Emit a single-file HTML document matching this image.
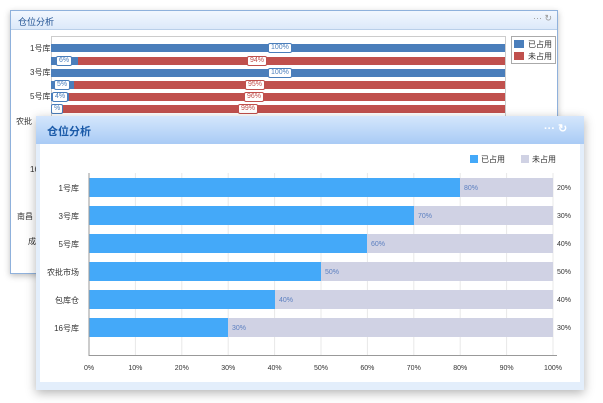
<!DOCTYPE html>
<html><head><meta charset="utf-8"><style>
*{margin:0;padding:0;box-sizing:border-box}
body{width:603px;height:403px;background:#fff;position:relative;overflow:hidden;font-family:"Liberation Sans","Noto Sans CJK SC",sans-serif}
.a{position:absolute}
.t{font-size:8px;color:#333;white-space:nowrap}
.lb{position:absolute;font-size:7px;background:#fff;border:1px solid;border-radius:2px;padding:0 2px;line-height:8px;height:10px;top:-1px}
</style></head><body>
<!-- back panel -->
<div class="a" style="left:10px;top:10px;width:548px;height:264px;border:1px solid #8fb1dc;background:#fff;box-shadow:0 2px 6px rgba(0,0,0,.25)"></div>
<div class="a" style="left:11px;top:11px;width:546px;height:19px;background:linear-gradient(#f2f7fe,#dce9fa);border-bottom:1px solid #b9cfe9"></div>
<div class="a t" style="left:18px;top:15px;font-size:9px;color:#1d4f91">仓位分析</div>
<div class="a t" style="left:533px;top:13px;color:#999;font-size:9px">··· ↻</div>
<div class="a" style="left:51px;top:36px;width:455px;height:80px;border:1px solid #ccc;border-bottom:none"></div>
<div class="a t" style="left:30px;top:43px">1号库</div>
<div class="a t" style="left:30px;top:67px">3号库</div>
<div class="a t" style="left:30px;top:91px">5号库</div>
<div class="a t" style="left:16px;top:116px">农批</div>
<div class="a t" style="left:30px;top:165px">16</div>
<div class="a t" style="left:17px;top:211px">南昌</div>
<div class="a t" style="left:28px;top:236px">成</div>
<div class="a" style="left:51px;top:44px;width:454px;height:8px;background:#4a7ebb"><span class="lb" style="left:217px;border-color:#4a7ebb;color:#4a7ebb">100%</span></div>
<div class="a" style="left:51px;top:57px;width:454px;height:8px;background:#c0504d"><div class="a" style="left:0;top:0;width:27px;height:8px;background:#4a7ebb"></div><span class="lb" style="left:5px;border-color:#4a7ebb;color:#4a7ebb">6%</span><span class="lb" style="left:196px;border-color:#c0504d;color:#c0504d">94%</span></div>
<div class="a" style="left:51px;top:69px;width:454px;height:8px;background:#4a7ebb"><span class="lb" style="left:217px;border-color:#4a7ebb;color:#4a7ebb">100%</span></div>
<div class="a" style="left:51px;top:81px;width:454px;height:8px;background:#c0504d"><div class="a" style="left:0;top:0;width:23px;height:8px;background:#4a7ebb"></div><span class="lb" style="left:3px;border-color:#4a7ebb;color:#4a7ebb">5%</span><span class="lb" style="left:194px;border-color:#c0504d;color:#c0504d">95%</span></div>
<div class="a" style="left:51px;top:93px;width:454px;height:8px;background:#c0504d"><div class="a" style="left:0;top:0;width:18px;height:8px;background:#4a7ebb"></div><span class="lb" style="left:1px;border-color:#4a7ebb;color:#4a7ebb">4%</span><span class="lb" style="left:193px;border-color:#c0504d;color:#c0504d">96%</span></div>
<div class="a" style="left:51px;top:105px;width:454px;height:8px;background:#c0504d"><span class="lb" style="left:0;border-color:#4a7ebb;color:#4a7ebb">%</span><span class="lb" style="left:187px;border-color:#c0504d;color:#c0504d">99%</span></div>
<div class="a" style="left:511px;top:36px;width:45px;height:28px;border:1px solid #aaa;background:#fff"></div>
<div class="a" style="left:514px;top:40px;width:10px;height:8px;background:#4a7ebb"></div>
<div class="a t" style="left:528px;top:39px">已占用</div>
<div class="a" style="left:514px;top:52px;width:10px;height:8px;background:#c0504d"></div>
<div class="a t" style="left:528px;top:51px">未占用</div>
<!-- front panel -->
<div class="a" style="left:36px;top:116px;width:548px;height:274px;background:#e3eefb;box-shadow:0 3px 10px rgba(0,0,0,.3)"></div>
<div class="a" style="left:36px;top:116px;width:548px;height:28px;background:linear-gradient(#d4e6fc,#a9cbf5)"></div>
<div class="a t" style="left:47px;top:123px;font-size:11px;font-weight:bold;color:#1a5aa8">仓位分析</div>
<div class="a t" style="left:544px;top:122px;font-size:11px;color:#fff;font-weight:bold">··· ↻</div>
<div class="a" style="left:40px;top:144px;width:540px;height:238px;background:#fff"></div>
<div class="a" style="left:470px;top:155px;width:8px;height:8px;background:#44a9f9"></div>
<div class="a t" style="left:481px;top:154px">已占用</div>
<div class="a" style="left:521px;top:155px;width:8px;height:8px;background:#d0d2e4"></div>
<div class="a t" style="left:532px;top:154px">未占用</div>
<svg class="a" style="left:0;top:0" width="603" height="403">
<g stroke="#e8e8e8" stroke-width="1">
<line x1="135.4" y1="173" x2="135.4" y2="355"/><line x1="181.8" y1="173" x2="181.8" y2="355"/><line x1="228.2" y1="173" x2="228.2" y2="355"/><line x1="274.6" y1="173" x2="274.6" y2="355"/><line x1="321" y1="173" x2="321" y2="355"/><line x1="367.4" y1="173" x2="367.4" y2="355"/><line x1="413.8" y1="173" x2="413.8" y2="355"/><line x1="460.2" y1="173" x2="460.2" y2="355"/><line x1="506.6" y1="173" x2="506.6" y2="355"/><line x1="553" y1="173" x2="553" y2="355"/>
</g>
<g fill="#d0d2e4"><rect x="89" y="178" width="464" height="19"/><rect x="89" y="206" width="464" height="19"/><rect x="89" y="234" width="464" height="19"/><rect x="89" y="262" width="464" height="19"/><rect x="89" y="290" width="464" height="19"/><rect x="89" y="318" width="464" height="19"/></g>
<g fill="#44a9f9"><rect x="89" y="178" width="371" height="19"/><rect x="89" y="206" width="325" height="19"/><rect x="89" y="234" width="278" height="19"/><rect x="89" y="262" width="232" height="19"/><rect x="89" y="290" width="186" height="19"/><rect x="89" y="318" width="139" height="19"/></g>
<line x1="89" y1="173" x2="89" y2="356" stroke="#999"/>
<line x1="89" y1="355.5" x2="557" y2="355.5" stroke="#999"/>
<g font-size="7" fill="#5b7fc0" font-family="Liberation Sans"><text x="464" y="190">80%</text><text x="418" y="218">70%</text><text x="371" y="246">60%</text><text x="325" y="274">50%</text><text x="279" y="302">40%</text><text x="232" y="330">30%</text></g>
<g font-size="7" fill="#333" font-family="Liberation Sans"><text x="557" y="190">20%</text><text x="557" y="218">30%</text><text x="557" y="246">40%</text><text x="557" y="274">50%</text><text x="557" y="302">40%</text><text x="557" y="330">30%</text></g>
<g font-size="7" fill="#333" font-family="Liberation Sans" text-anchor="middle"><text x="89" y="370">0%</text><text x="135.4" y="370">10%</text><text x="181.8" y="370">20%</text><text x="228.2" y="370">30%</text><text x="274.6" y="370">40%</text><text x="321" y="370">50%</text><text x="367.4" y="370">60%</text><text x="413.8" y="370">70%</text><text x="460.2" y="370">80%</text><text x="506.6" y="370">90%</text><text x="553" y="370">100%</text></g>
<g font-size="8" fill="#333" font-family="Liberation Sans,Noto Sans CJK SC,sans-serif" text-anchor="end"><text x="79" y="191">1号库</text><text x="79" y="219">3号库</text><text x="79" y="247">5号库</text><text x="79" y="275">农批市场</text><text x="79" y="303">包库仓</text><text x="79" y="331">16号库</text></g>
</svg>
</body></html>
